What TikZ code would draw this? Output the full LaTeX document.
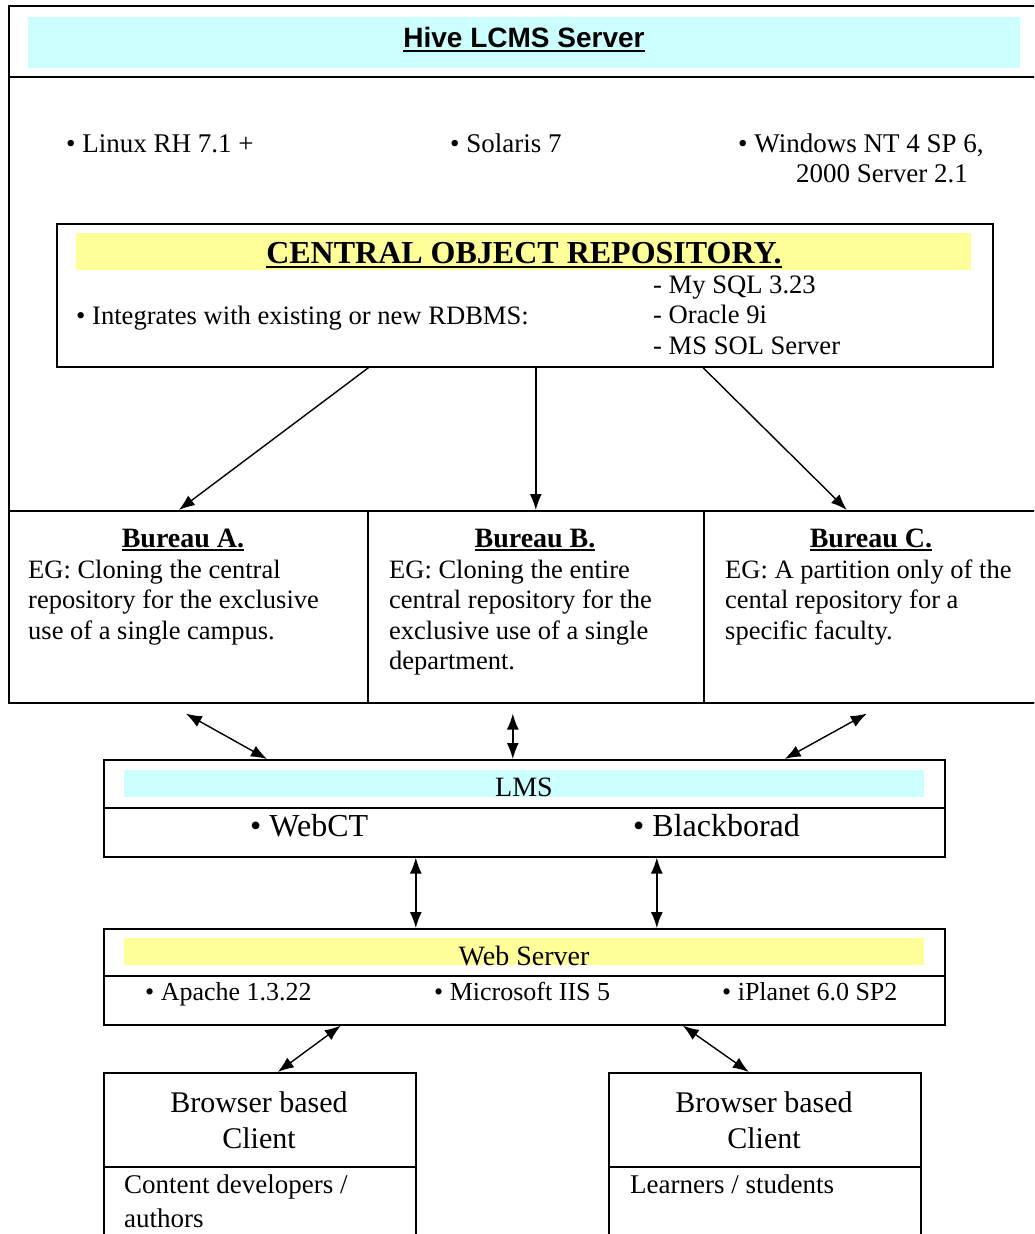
\documentclass[tikz,border=0pt]{standalone}
\usepackage{fontspec}
\setmainfont{Liberation Serif}
\newfontfamily\arialfont{Liberation Sans}
\usetikzlibrary{arrows.meta}
\definecolor{bandcyan}{HTML}{CCFFFF}
\definecolor{bandyellow}{HTML}{FFFF99}
% heavy underline: [depth]{text}
\newcommand{\ulbar}[2][5pt]{\setbox0=\hbox{#2}\rlap{\copy0}\rule[-#1]{\wd0}{2.5pt}}
\begin{document}
\begin{tikzpicture}[x=1pt, y=-1pt,
		box/.style={draw, line width=1.6pt, inner sep=0, anchor=north west},
		txt/.style={inner sep=0, anchor=base west, align=left},
		ctr/.style={inner sep=0, anchor=base, align=center},
		link/.style={line width=1.4pt, -{Latex[length=16pt,width=12pt]}},
		twoway/.style={line width=1.4pt, {Latex[length=16pt,width=12pt]}-{Latex[length=16pt,width=12pt]}}]
		\useasboundingbox (0,0) rectangle (1034,1234);
		\clip (0,0) rectangle (1034,1234);
		
		% server frame
		\node [box, minimum width=1032pt, minimum height=697pt] (server) at (8,5) {};
		\fill [bandcyan] (28,17) rectangle (1020,68);
		\draw [line width=1.6pt] (8,77) -- (1040,77);
		\node [ctr, font=\arialfont\bfseries\fontsize{28}{32}\selectfont] (hive) at (524,47) {\ulbar{Hive LCMS Server}};
		
		\begin{scope} [font=\fontsize{27}{31}\selectfont]
		\node [txt] (linux) at (66,152) {•\ Linux RH 7.1 +};
		\node [txt] (solaris) at (450,152) {•\ Solaris 7};
		\node [txt] (windows) at (738,152) {•\ Windows NT 4 SP 6,};
		\node [txt] (windows2) at (796,182) {2000 Server 2.1};
		\end{scope}
		
		% central object repository
		\node [box, minimum width=936pt, minimum height=143pt] (cor) at (56,223) {};
		\fill [bandyellow] (76,233) rectangle (971,270);
		\node [ctr, font=\bfseries\fontsize{32}{36}\selectfont] (cortitle) at (524,263) {\ulbar{CENTRAL OBJECT REPOSITORY.}};
		\begin{scope} [font=\fontsize{26.6}{30.5}\selectfont]
		\node [txt] (rdbms) at (76,324) {•\ Integrates with existing or new RDBMS:};
		\node [txt] (dblist) at (653,354) {- My SQL 3.23\\- Oracle 9i\\- MS SOL Server};
		\end{scope}
		
		% bureaux
		\node [box, minimum width=359pt, minimum height=192pt] (bA) at (8,510) {};
		\node [box, minimum width=336pt, minimum height=192pt] (bB) at (367,510) {};
		\node [box, minimum width=337pt, minimum height=192pt] (bC) at (703,510) {};
		\begin{scope} [font=\bfseries\fontsize{28}{32}\selectfont]
		\node [ctr] (headA) at (183,547) {\ulbar[4pt]{Bureau A.}};
		\node [ctr] (headB) at (535,547) {\ulbar[4pt]{Bureau B.}};
		\node [ctr] (headC) at (871,547) {\ulbar[4pt]{Bureau C.}};
		\end{scope}
		\begin{scope} [font=\fontsize{26.5}{30.5}\selectfont]
		\node [txt] (egA) at (28,639) {EG: Cloning the central\\repository for the exclusive\\use of a single campus.};
		\node [txt] (egB) at (389,669.5) {EG: Cloning the entire\\central repository for the\\exclusive use of a single\\department.};
		\node [txt] (egC) at (725,639) {EG: A partition only of the\\cental repository for a\\specific faculty.};
		\end{scope}
		
		\draw [link] (bA.north east |- cor.south) -- ([xshift=-9.5pt]bA.north);
		\draw [link] (bB.north |- cor.south) -- (bB.north);
		\draw [link] (bC.north west |- cor.south) -- ([xshift=-25.5pt]bC.north);
		
		% LMS
		\node [box, minimum width=841pt, minimum height=97pt] (lms) at (103,759) {};
		\fill [bandcyan] (124,770) rectangle (924,797);
		\draw [line width=1.6pt] (103,808) -- (944,808);
		\node [ctr, font=\fontsize{28}{32}\selectfont] (lmslabel) at (524,796) {LMS};
		\begin{scope} [font=\fontsize{32}{36}\selectfont]
		\node [txt] (webct) at (250,836) {•\ WebCT};
		\node [txt] (blackboard) at (633,836) {•\ Blackborad};
		\end{scope}
		
		\coordinate (upA) at ([xshift=-2.5pt,yshift=-10pt]bA.south);
		\coordinate (upB) at ([xshift=-23pt,yshift=-10pt]bB.south);
		\coordinate (upC) at ([xshift=-5.5pt,yshift=-10pt]bC.south);
		\draw [twoway] (upA) -- ([xshift=164pt]lms.north west);
		\draw [twoway] (upB) -- ([xshift=-11.5pt]lms.north);
		\draw [twoway] (upC) -- ([xshift=-161pt]lms.north east);
		
		% web server
		\node [box, minimum width=841pt, minimum height=96pt] (web) at (103,928) {};
		\fill [bandyellow] (124,938) rectangle (924,965);
		\draw [line width=1.6pt] (103,976) -- (944,976);
		\node [ctr, font=\fontsize{28}{32}\selectfont] (weblabel) at (524,965) {Web Server};
		\begin{scope} [font=\fontsize{26}{30}\selectfont]
		\node [txt] (apache) at (145,1000) {•\ Apache 1.3.22};
		\node [txt] (iis) at (434,1000) {•\ Microsoft IIS 5};
		\node [txt] (iplanet) at (722,1000) {•\ iPlanet 6.0 SP2};
		\end{scope}
		
		\draw [twoway] ([xshift=-108.5pt]lms.south) -- ([xshift=-108.5pt]web.north);
		\draw [twoway] ([xshift=132.5pt]lms.south) -- ([xshift=132.5pt]web.north);
		
		% clients
		\node [box, minimum width=312pt, minimum height=200pt] (clientA) at (103,1072) {};
		\node [box, minimum width=312pt, minimum height=200pt] (clientB) at (608,1072) {};
		\draw [line width=1.6pt] (103,1167) -- (415,1167);
		\draw [line width=1.6pt] (608,1167) -- (920,1167);
		\begin{scope} [font=\fontsize{30}{36}\selectfont]
		\node [ctr] (browserA) at (259,1148) {Browser based\\Client};
		\node [ctr] (browserB) at (764,1148) {Browser based\\Client};
		\end{scope}
		\begin{scope} [font=\fontsize{27}{34}\selectfont]
		\node [txt] (authors) at (124,1227) {Content developers /\\authors};
		\node [txt] (learners) at (630,1193) {Learners / students};
		\end{scope}
		
		\draw [twoway] ([xshift=-183.5pt]web.south) -- ([xshift=18pt]clientA.north);
		\draw [twoway] ([xshift=158.5pt]web.south) -- ([xshift=-16pt]clientB.north);
		
		\end{tikzpicture}
\end{document}
